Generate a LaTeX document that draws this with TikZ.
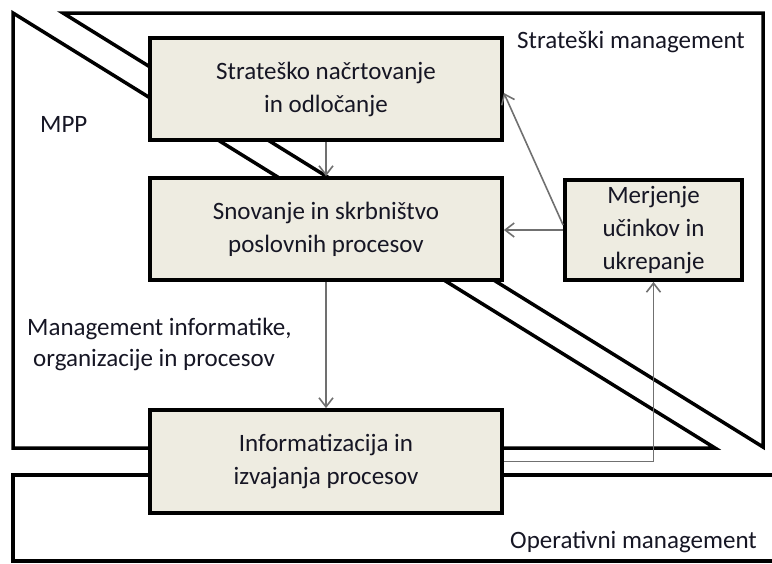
\documentclass[tikz,border=0pt]{standalone}
\usepackage{fontspec}
\setmainfont{Carlito}
\usetikzlibrary{arrows.meta,calc}
\definecolor{boxfill}{RGB}{238,236,225}
\definecolor{arrgray}{RGB}{112,112,112}
\definecolor{txt}{RGB}{22,22,36}
\begin{document}
\begin{tikzpicture}[x=1pt,y=-1pt,
  frame/.style={draw=black, line width=3.5pt, line join=miter},
  box/.style={draw=black, line width=3.8pt, fill=boxfill, rectangle, inner sep=0pt,
    align=center, font=\fontsize{25}{33}\selectfont, text=txt},
  arr/.style={draw=arrgray, line width=1.6pt,
    -{Straight Barb[length=9pt,width=14pt,line width=1.6pt]}},
  lbl/.style={font=\fontsize{25}{33}\selectfont, text=txt, inner sep=0pt, anchor=base west}]
\useasboundingbox (0,0) rectangle (772,563);
% background shapes
\draw[frame] (13,13) -- (13,448) -- (715,448) -- cycle;
\draw[frame] (63,13) -- (763,13) -- (763,447) -- cycle;
\draw[frame] (775,475) -- (13,475) -- (13,561) -- (775,561);
% boxes
\node[box, minimum width=352pt, minimum height=102pt] (b1) at (326,89)
  {Strateško načrtovanje\\in odločanje};
\node[box, minimum width=352pt, minimum height=102pt] (b2) at (326,229)
  {Snovanje in skrbništvo\\poslovnih procesov};
\node[box, minimum width=177pt, minimum height=100pt] (b3) at (653.5,230)
  {Merjenje\\učinkov in\\ukrepanje};
\node[box, minimum width=352pt, minimum height=103pt] (b4) at (326,461.5)
  {Informatizacija in\\izvajanja procesov};
% labels
\node[lbl] (t1) at (517,48) {Strateški management};
\node[lbl] (t2) at (40,132) {MPP};
\node[lbl] (t3) at (27,335) {Management informatike,};
\node[lbl] (t4) at (33,366) {organizacije in procesov};
\node[lbl] (t5) at (510,548) {Operativni management};
% connectors
\draw[arr] (b1) -- (b2);
\draw[arr] (b2) -- (b4);
\draw[arr] (b3.west) -- (b3.west -| b2.east);
\draw[arr] ($(b3.west)+(0,-5)$) -- ($(b1.east)+(0,4)$);
\draw[arr] (b4.east) -| (b3.south);
\end{tikzpicture}
\end{document}
